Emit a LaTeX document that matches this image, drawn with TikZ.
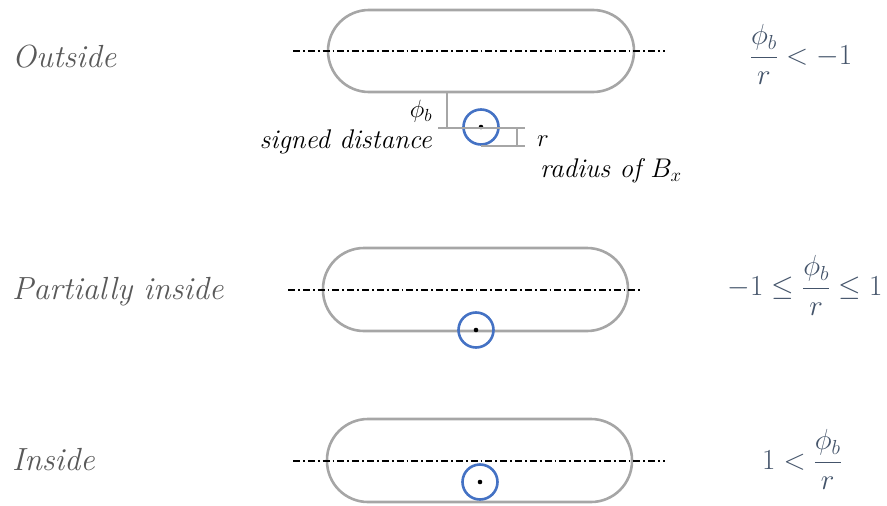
\RequirePackage{fix-cm}
\documentclass[tikz,border=0pt]{standalone}
\usepackage{amsmath}
\usepackage{fontspec}
\begin{document}
\begin{tikzpicture}[x=1pt,y=-1pt,
  capsule/.style={draw=capgray,line width=2.6pt,rounded corners=41pt},
  axisline/.style={draw=black,line width=1.2pt,dash pattern=on 7pt off 3pt on 1.8pt off 3pt},
  ball/.style={draw=ballblue,line width=2.6pt},
  dimline/.style={draw=capgray,line width=1.3pt},
  sidelabel/.style={anchor=base west,inner sep=0pt,text=sidegray,font=\fontsize{32}{38}\selectfont\itshape},
  formula/.style={inner sep=0pt,text=formblue,font=\fontsize{29}{34}\selectfont},
  small/.style={inner sep=0pt,font=\fontsize{27}{32}\selectfont\itshape},
  smallmath/.style={inner sep=0pt,font=\fontsize{25}{30}\selectfont}
]
\definecolor{capgray}{HTML}{A6A6A6}
\definecolor{ballblue}{HTML}{4472C4}
\definecolor{sidegray}{HTML}{595959}
\definecolor{formblue}{HTML}{44546A}
\useasboundingbox (0,0) rectangle (887,506);

% ---------- Outside ----------
\draw[capsule] (328,10) rectangle (634,92);
\draw[axisline] (293,51) -- (665,51);
\draw[ball] (481,127) circle (17.5);
\fill (481,127) circle (2.3);
\coordinate (d1a) at (447,92);
\coordinate (d1b) at (447,128);
\coordinate (h1a) at (438,128);
\coordinate (h1b) at (525,128);
\coordinate (h2a) at (481,146);
\coordinate (h2b) at (525,146);
\coordinate (v2a) at (517,128);
\coordinate (v2b) at (517,146);
\draw[dimline] (d1a) -- (d1b);
\draw[dimline] (h1a) -- (h1b);
\draw[dimline] (h2a) -- (h2b);
\draw[dimline] (v2a) -- (v2b);
\node[smallmath,anchor=center] (phib) at (421,111) {$\phi_b$};
\node[small,anchor=base east] (sd) at (432,148) {signed distance};
\node[smallmath,anchor=base west] (rr) at (537,146) {$r$};
\node[small,anchor=base west] (rad) at (540,177) {radius of $B_x$};
\node[sidelabel] (out) at (12,67) {Outside};
\node[formula] (f1) at (801,54.5) {$\dfrac{\phi_b}{r} < -1$};

% ---------- Partially inside ----------
\draw[capsule] (323,248) rectangle (628,331);
\draw[axisline] (288,290) -- (641,290);
\draw[ball] (476,330) circle (17.5);
\fill (476,330) circle (2.3);
\node[sidelabel] (part) at (12,299) {Partially inside};
\node[formula] (f2) at (805,285.5) {$-1 \le \dfrac{\phi_b}{r} \le 1$};

% ---------- Inside ----------
\draw[capsule] (327,419) rectangle (632,502);
\draw[axisline] (293,461) -- (665,461);
\draw[ball] (480,482) circle (17.5);
\fill (480,482) circle (2.3);
\node[sidelabel] (ins) at (12,470) {Inside};
\node[formula] (f3) at (802,459.5) {$1 < \dfrac{\phi_b}{r}$};
\end{tikzpicture}
\end{document}
